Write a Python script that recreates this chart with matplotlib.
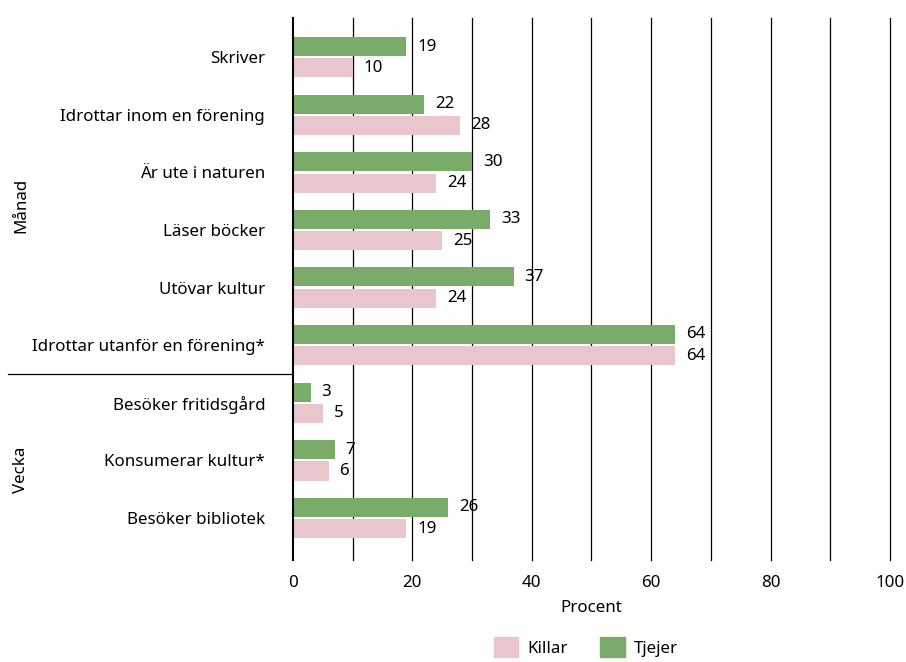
import numpy as np
import matplotlib.pyplot as plt
from matplotlib.patches import Patch

plt.rcParams['font.family'] = ['Noto Sans', 'DejaVu Sans']

# Data
categories = ['Skriver', 'Idrottar inom en förening', 'Är ute i naturen', 'Läser böcker',
              'Utövar kultur', 'Idrottar utanför en förening*', 'Besöker fritidsgård',
              'Konsumerar kultur*', 'Besöker bibliotek']
tjejer = [19, 22, 30, 33, 37, 64, 3, 7, 26]
killar = [10, 28, 24, 25, 24, 64, 5, 6, 19]
groups = ['Månad', 'Vecka']
group_pos = [2.57, 7.17]

green = '#7aab6b'
pink = '#e9c5cc'
fs = 12.2

fig = plt.figure(figsize=(9.06, 6.62), dpi=100)
ax = fig.add_axes([0.3234, 0.1541, 0.6589, 0.8187])

y = np.arange(len(categories))
h = 0.33
ax.barh(y - h / 2 - 0.02, tjejer, height=h, color=green)
ax.barh(y + h / 2 + 0.02, killar, height=h, color=pink)

for i in range(len(categories)):
    ax.text(tjejer[i] + 1.8, y[i] - h / 2 - 0.02, str(tjejer[i]), va='center', fontsize=fs)
    ax.text(killar[i] + 1.8, y[i] + h / 2 + 0.02, str(killar[i]), va='center', fontsize=fs)

ax.set_ylim(8.73, -0.68)
ax.set_xlim(0, 100)
ax.set_yticks(y)
ax.set_yticklabels(categories, fontsize=fs)
ax.tick_params(axis='y', length=0, pad=20)
ax.set_xticks(np.arange(0, 101, 20))
ax.tick_params(axis='x', length=0, pad=11, labelsize=fs)
for v in range(10, 101, 10):
    ax.axvline(v, color='black', linewidth=0.9, zorder=0, clip_on=False)
for s in ['top', 'right', 'bottom']:
    ax.spines[s].set_visible(False)
ax.spines['left'].set_linewidth(1.5)
ax.set_xlabel('Procent', fontsize=fs, labelpad=6)

# group labels and separator
for g, pos in zip(groups, group_pos):
    ax.text(-45.5, pos, g, rotation=90, ha='center', va='center', fontsize=fs, clip_on=False)
ax.plot([-47.8, 0], [5.5, 5.5], color='black', linewidth=0.9, clip_on=False)

handles = [Patch(color=pink, label='Killar'), Patch(color=green, label='Tjejer')]
fig.legend(handles=handles, loc='lower center', bbox_to_anchor=(0.647, -0.016), ncol=2,
           frameon=False, fontsize=fs, handlelength=1.45, handleheight=1.45,
           handletextpad=0.55, columnspacing=1.9)

fig.savefig('out.png', dpi=100)
